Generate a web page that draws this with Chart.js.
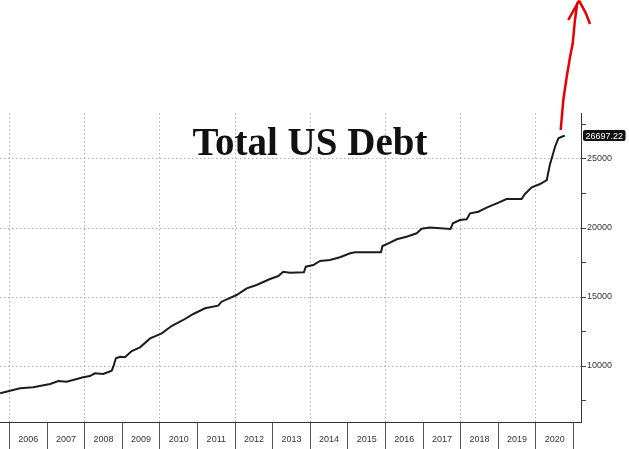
<!DOCTYPE html>
<html lang="en">
	<head>
		<meta charset="UTF-8" />
		<title>Total US Debt</title>
		<script src="https://cdn.jsdelivr.net/npm/chart.js@4.4.3/dist/chart.umd.min.js"></script>
		<style>
			body {
				margin: 0;
				background: #fff;
			}
			canvas {
				display: block;
			}
		</style>
	</head>
	<body>
		<canvas id="debtChart" width="629" height="449"></canvas>

		<script>
			// debt in $bn, dates as decimal years
			const dates = [
				2005.75, 2006.28, 2006.63, 2007.08, 2007.30, 2007.52, 2007.96, 2008.14,
				2008.27, 2008.49, 2008.72, 2008.76, 2008.83, 2008.94, 2009.07, 2009.25,
				2009.47, 2009.74, 2010.05, 2010.31, 2010.62, 2010.89, 2011.20, 2011.55,
				2011.64, 2012.04, 2012.31, 2012.57, 2012.93, 2013.15, 2013.28, 2013.46,
				2013.83, 2013.88, 2014.08, 2014.26, 2014.52, 2014.79, 2015.06, 2015.19,
				2015.88, 2015.92, 2016.12, 2016.30, 2016.56, 2016.83, 2016.96, 2017.18,
				2017.73, 2017.79, 2017.98, 2018.16, 2018.25, 2018.47, 2018.69, 2018.96,
				2019.22, 2019.62, 2019.71, 2019.89, 2020.11, 2020.29, 2020.37, 2020.51,
				2020.60, 2020.69, 2020.77,
			];
			const debt = [
				8023, 8385, 8457, 8696, 8914, 8863, 9182, 9276,
				9472, 9421, 9660, 9950, 10559, 10675, 10631, 11088,
				11356, 12000, 12370, 12899, 13334, 13769, 14182, 14370,
				14660, 15145, 15631, 15870, 16305, 16522, 16834, 16760,
				16790, 17196, 17319, 17609, 17681, 17877, 18167, 18240,
				18240, 18696, 18935, 19181, 19370, 19616, 19950, 20030,
				19928, 20341, 20580, 20631, 21065, 21181, 21471, 21790,
				22102, 22102, 22464, 22949, 23189, 23478, 24565, 25891,
				26500, 26616, 26697.22,
			];

			// hand drawn red arrow (null = pen lifted)
			const arrowX = [
				2020.66, 2020.73, 2020.82, 2020.91, 2020.98, 2021.04, 2021.10, 2021.15,
				2020.86, null, 2021.15, 2021.33, 2021.44,
			];
			const arrowY = [
				27101, 29275, 30963, 32413, 33384, 35072, 36282, 36470,
				35072, null, 36470, 35557, 34782,
			];

			const yearTicks = [
				2006, 2007, 2008, 2009, 2010, 2011, 2012, 2013, 2014, 2015, 2016,
				2017, 2018, 2019, 2020, 2021,
			];
			const valueTicks = [7500, 10000, 12500, 15000, 17500, 20000, 22500, 25000, 27500];

			const chartTitle = "Total US Debt";

			const lastValueLabel = {
				id: "lastValueLabel",
				afterDraw(chart) {
					const ctx = chart.ctx;
					const yScale = chart.scales.y;
					const last = debt[debt.length - 1];
					const y = yScale.getPixelForValue(last);
					const x = chart.chartArea.right + 2;
					ctx.save();
					ctx.font = "9px 'Liberation Sans'";
					const text = last.toFixed(2);
					const w = ctx.measureText(text).width + 5;
					ctx.fillStyle = "#111";
					ctx.beginPath();
					ctx.roundRect(x, y - 5.5, w, 11, 2);
					ctx.fill();
					ctx.fillStyle = "#fff";
					ctx.textBaseline = "middle";
					ctx.fillText(text, x + 2.5, y + 0.5);

					// title sits inside the plot
					ctx.font = "bold 39px 'Liberation Serif'";
					ctx.fillStyle = "#111";
					ctx.textAlign = "center";
					ctx.textBaseline = "alphabetic";
					ctx.fillText(chartTitle, 310, 155);
					ctx.restore();
				},
			};

			const dotted = "#b0b0b0";

			new Chart(document.getElementById("debtChart"), {
				type: "line",
				data: {
					datasets: [
						{
							data: arrowX.map((x, i) => ({ x: x, y: arrowY[i] })),
							borderColor: "#e60000",
							borderWidth: 2.5,
							pointRadius: 0,
							tension: 0,
							spanGaps: false,
							clip: false,
						},
						{
							data: dates.map((d, i) => ({ x: d, y: debt[i] })),
							borderColor: "#1c1c1c",
							borderWidth: 2,
							pointRadius: 0,
							tension: 0,
						},
					],
				},
				options: {
					responsive: false,
					animation: false,
					layout: { padding: { top: 113, left: 0, right: 0, bottom: 0 } },
					plugins: {
						legend: { display: false },
						tooltip: { enabled: false },
					},
					scales: {
						x: {
							type: "linear",
							min: 2005.747,
							max: 2021.2,
							afterBuildTicks: (s) => {
								s.ticks = yearTicks.map((v) => ({ value: v }));
							},
							afterFit: (s) => {
								s.height = 27;
							},
							grid: {
								color: (c) =>
									c.tick && c.tick.value % 2 === 0 ? dotted : "rgba(0,0,0,0)",
								tickColor: "#555",
								tickLength: 27,
								tickBorderDash: [],
							},
							border: { color: "#333", dash: [1.5, 2.5] },
							ticks: {
								autoSkip: false,
								maxRotation: 0,
								labelOffset: 18.8,
								padding: -14.4,
								color: "#333",
								font: { family: "Liberation Sans", size: 9 },
								callback: (v) => (v === 2021 ? "" : String(v)),
							},
						},
						y: {
							position: "right",
							min: 5943,
							max: 28333,
							afterBuildTicks: (s) => {
								s.ticks = valueTicks.map((v) => ({ value: v }));
							},
							afterFit: (s) => {
								s.width = 48;
							},
							grid: {
								color: (c) =>
									c.tick && c.tick.value % 5000 === 0 ? dotted : "rgba(0,0,0,0)",
								tickColor: "#444",
								tickLength: 5,
								tickBorderDash: [],
							},
							border: { color: "#333", dash: [1.5, 2.5] },
							ticks: {
								padding: 1,
								color: "#333",
								font: { family: "Liberation Sans", size: 9 },
								callback: (v) => (v % 5000 === 0 ? String(v) : ""),
							},
						},
					},
				},
				plugins: [lastValueLabel],
			});
		</script>
	</body>
</html>
